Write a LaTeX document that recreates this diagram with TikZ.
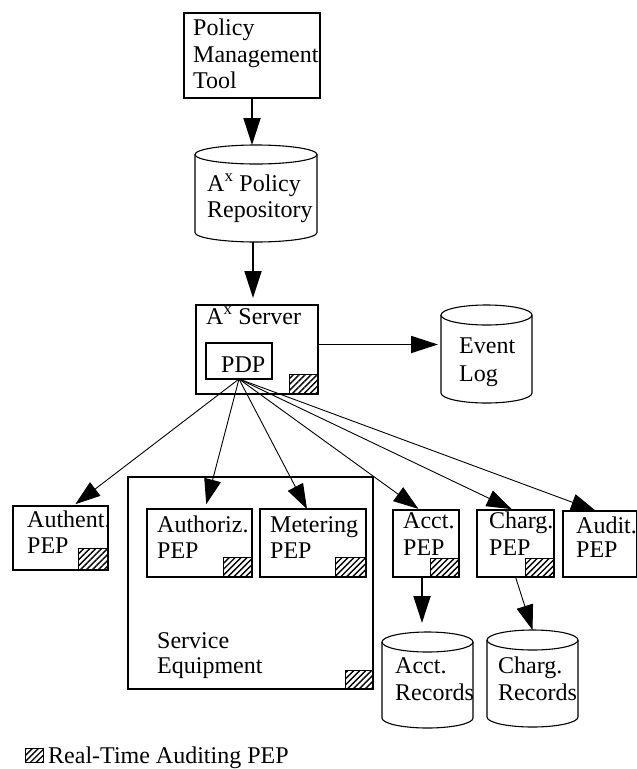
\documentclass[tikz,border=0pt]{standalone}
\usepackage{fontspec}
\setmainfont{Liberation Serif}
\usetikzlibrary{arrows.meta,patterns.meta,calc}
\tikzset{
  boxst/.style={draw, line width=1.8pt, inner sep=0, outer sep=0, anchor=north west},
  hatch/.style={draw, line width=1pt, pattern={Lines[angle=45,distance=4.2pt,line width=1.4pt]}},
  cylst/.style={line width=1.1pt},
  conn/.style={line width=1.8pt, -{Triangle[length=27pt,width=17pt]}},
  fan/.style={line width=0.9pt, -{Triangle[length=25pt,width=17pt]}},
  txt/.style={anchor=base west, inner sep=0, font=\fontsize{24}{26}\selectfont},
}
\newcommand{\drum}[6]{% name, x1, x2, ytop, ybot, ry
  \pgfmathsetmacro{\drumcx}{(#2+#3)/2}
  \pgfmathsetmacro{\drumrx}{(#3-#2)/2}
  \pgfmathsetmacro{\drumyt}{-(#4)-#6}
  \pgfmathsetmacro{\drumyb}{-(#5)+#6}
  \node[inner sep=0, outer sep=0, anchor=north west,
        minimum width={(#3-#2)*1pt}, minimum height={(#5-#4)*1pt}] (#1) at (#2,-#4) {};
  \draw[cylst] (\drumcx,\drumyt) ellipse[x radius=\drumrx, y radius=#6];
  \draw[cylst] (#2,\drumyt) -- (#2,\drumyb)
     arc[start angle=180,end angle=360,x radius=\drumrx,y radius=#6] -- (#3,\drumyt);
}
\begin{document}
\begin{tikzpicture}[x=1pt,y=1pt]
\useasboundingbox (0,0) rectangle (637,-769);

% Policy Management Tool
\node[boxst, minimum width=136pt, minimum height=85pt] (pmt) at (184,-13) {};
\node[txt] (pmt1) at (193,-35) {Policy};
\node[txt] (pmt2) at (193,-62) {Management};
\node[txt] (pmt3) at (193,-88) {Tool};

% Policy repository
\drum{repo}{195}{317}{145}{242}{9.5}
\node[txt] (repo1) at (207,-191) {A\textsuperscript{x} Policy};
\node[txt] (repo2) at (207,-217) {Repository};

% Server
\node[boxst, minimum width=122pt, minimum height=89pt] (server) at (196,-305) {};
\node[txt] (server1) at (206,-324) {A\textsuperscript{x} Server};
\node[boxst, minimum width=66pt, minimum height=36pt] (pdp) at (206,-343) {};
\node[txt] (pdp1) at (221,-372) {PDP};
\draw[hatch] (server.south east) rectangle ++(-29,20);

% Event log
\drum{evlog}{441}{532}{305}{403}{10}
\node[txt] (ev1) at (459,-353) {Event};
\node[txt] (ev2) at (459,-381) {Log};

% Authent
\node[boxst, minimum width=95pt, minimum height=64pt] (authent) at (13,-506) {};
\node[txt] (au1) at (27,-527) {Authent.};
\node[txt] (au2) at (27,-553) {PEP};
\draw[hatch] (authent.south east) rectangle ++(-30,22);

% Service equipment
\node[boxst, minimum width=245pt, minimum height=212pt] (svc) at (128,-477) {};
\node[txt] (svc1) at (157,-648) {Service};
\node[txt] (svc2) at (157,-673) {Equipment};
\draw[hatch] (svc.south east) rectangle ++(-28,19);

\node[boxst, minimum width=105pt, minimum height=68pt] (authz) at (147,-509) {};
\node[txt] (az1) at (157,-532) {Authoriz.};
\node[txt] (az2) at (157,-558) {PEP};
\draw[hatch] (authz.south east) rectangle ++(-29,20);

\node[boxst, minimum width=106pt, minimum height=68pt] (meter) at (260,-509) {};
\node[txt] (me1) at (270,-532) {Metering};
\node[txt] (me2) at (270,-558) {PEP};
\draw[hatch] (meter.south east) rectangle ++(-31,20);

% Acct, Charg, Audit
\node[boxst, minimum width=66pt, minimum height=67pt] (acct) at (393,-510) {};
\node[txt] (ac1) at (403,-528) {Acct.};
\node[txt] (ac2) at (403,-555) {PEP};
\draw[hatch] (acct.south east) rectangle ++(-29,19);

\node[boxst, minimum width=77pt, minimum height=67pt] (charg) at (477,-510) {};
\node[txt] (ch1) at (489,-528) {Charg.};
\node[txt] (ch2) at (489,-555) {PEP};
\draw[hatch] (charg.south east) rectangle ++(-29,19);

\node[boxst, minimum width=74pt, minimum height=66pt] (audit) at (563,-511) {};
\node[txt] (ad1) at (576,-533) {Audit.};
\node[txt] (ad2) at (576,-557) {PEP};

% Records
\drum{acctrec}{382}{473}{632}{728}{10}
\node[txt] (ar1) at (395,-673) {Acct.};
\node[txt] (ar2) at (395,-700) {Records};
\drum{chargrec}{487}{578}{630}{727}{10}
\node[txt] (cr1) at (498,-673) {Charg.};
\node[txt] (cr2) at (498,-700) {Records};

% Connectors
\draw[conn] (pmt.south) -- (pmt.south |- repo.north);
\draw[conn, shorten >=7pt] ([xshift=-3pt]repo.south) -- ([xshift=-3pt]repo.south |- server.north);
\draw[conn, shorten >=3pt] ([yshift=5pt]server.east) -- ([yshift=5pt]server.east -| evlog.west);
\draw[fan, shorten >=3pt] (pdp.south) -- ([xshift=12.5pt]authent.north);
\draw[fan, shorten >=5pt] (pdp.south) -- ([xshift=5.5pt]authz.north);
\draw[fan] (pdp.south) -- ([xshift=-6pt]meter.north);
\draw[fan, shorten >=2pt] (pdp.south) -- ([xshift=-6pt]acct.north);
\draw[fan, shorten >=2pt] (pdp.south) -- ([xshift=-2pt]charg.north);
\draw[fan] (pdp.south) -- ([xshift=-4pt]audit.north);
\draw[conn, shorten >=9pt] ([xshift=-4pt]acct.south) -- ([xshift=-4pt]acct.south |- acctrec.north);
\draw[fan] (charg.south) -- (chargrec.north);

% Legend
\draw[hatch] (25,-748) rectangle (43,-762);
\node[txt] (legend) at (48,-763) {Real-Time Auditing PEP};
\end{tikzpicture}
\end{document}
